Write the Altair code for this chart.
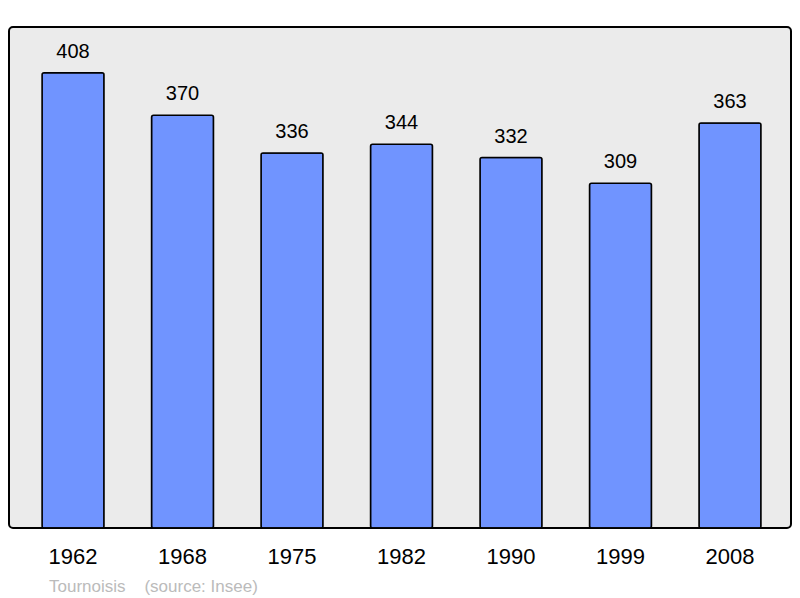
import altair as alt
import pandas as pd

years = ["1962", "1968", "1975", "1982", "1990", "1999", "2008"]
population = [408, 370, 336, 344, 332, 309, 363]

df = pd.DataFrame({"year": years, "pop": population})

FONT = "Liberation Sans"

x = alt.X("year:N", sort=years, title=None,
          scale=alt.Scale(paddingInner=0.434, paddingOuter=0.288, align=0.524),
          axis=alt.Axis(labelAngle=0, labelFontSize=22, labelColor="black",
                        labelFont=FONT, domain=False, ticks=False, grid=False,
                        labelPadding=18))
y = alt.Y("pop:Q", title=None, scale=alt.Scale(domain=[0, 449], nice=False, zero=True),
          axis=None)

bars = alt.Chart(df).mark_bar(color="#7094ff", stroke="black", strokeWidth=1.5,
                              cornerRadius=2).encode(x=x, y=y)

labels = alt.Chart(df).mark_text(fontSize=20, font=FONT, color="black",
                                 baseline="bottom", dy=-11).encode(
    x=x, y=y, text="pop:Q")

chart = alt.layer(bars, labels).properties(
    width=782, height=501,
    background="white",
    autosize=alt.AutoSizeParams(type="none"),
    padding={"left": 1, "top": 19, "right": 1, "bottom": 70},
    title=alt.TitleParams(
        text="Tournoisis\u00a0\u00a0\u00a0\u00a0(source: Insee)",
        orient="bottom", anchor="start", fontSize=17, font=FONT,
        fontWeight="normal", color="#bbbbbb", dx=40, offset=12),
).configure_view(
    fill="#ebebeb", stroke="black", strokeWidth=2, cornerRadius=4
)

chart.save("out.html", embed_options={"renderer": "svg", "actions": False})
